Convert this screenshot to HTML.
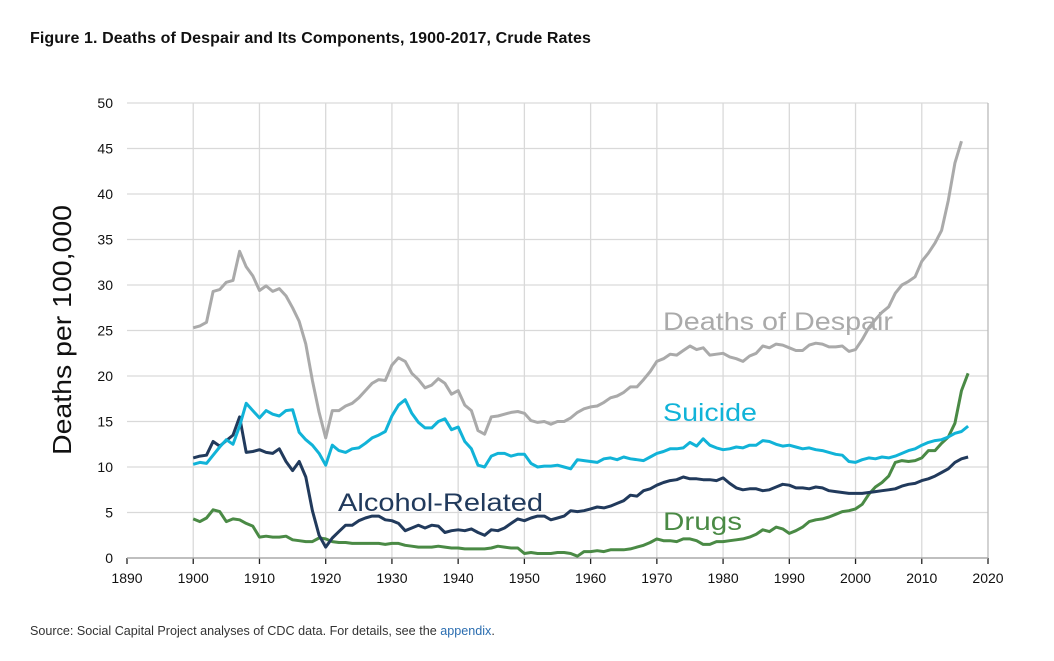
<!DOCTYPE html>
<html><head><meta charset="utf-8">
<style>
body{margin:0;background:#fff;width:1054px;height:661px;overflow:hidden;font-family:"Liberation Sans",sans-serif;}
#title{position:absolute;left:30px;top:30px;font-size:16px;font-weight:bold;color:#111;letter-spacing:0.1px;}
#source{position:absolute;left:30px;top:624px;font-size:12.6px;color:#333;}
#source a{color:#2a6db0;text-decoration:none;}
</style></head><body>
<div id="title">Figure 1. Deaths of Despair and Its Components, 1900-2017, Crude Rates</div>
<svg id="chart" width="1054" height="661" style="position:absolute;left:0;top:0"></svg>
<div id="source">Source: Social Capital Project analyses of CDC data. For details, see the <a>appendix</a>.</div>
<script>
const startYear = 1900;
const xTicks = [1890,1900,1910,1920,1930,1940,1950,1960,1970,1980,1990,2000,2010,2020];
const yTicks = [0,5,10,15,20,25,30,35,40,45,50];
const despair = [25.3,25.5,25.9,29.3,29.5,30.3,30.5,33.7,32.0,31.0,29.4,29.9,29.3,29.6,28.8,27.5,26.0,23.5,19.5,16.0,13.2,16.2,16.2,16.7,17.0,17.6,18.4,19.2,19.6,19.5,21.2,22.0,21.6,20.3,19.6,18.7,19.0,19.7,19.2,18.0,18.4,16.8,16.2,14.0,13.6,15.5,15.6,15.8,16.0,16.1,15.9,15.1,14.9,15.0,14.7,15.0,15.0,15.4,16.0,16.4,16.6,16.7,17.1,17.6,17.8,18.2,18.8,18.8,19.6,20.5,21.6,21.9,22.4,22.3,22.8,23.3,22.9,23.1,22.3,22.4,22.5,22.1,21.9,21.6,22.2,22.5,23.3,23.1,23.5,23.4,23.1,22.8,22.8,23.4,23.6,23.5,23.2,23.2,23.3,22.7,22.9,24.0,25.3,26.2,27.0,27.6,29.1,30.0,30.4,30.9,32.6,33.5,34.6,36.0,39.3,43.4,45.8];
const suicide = [10.3,10.5,10.4,11.3,12.2,13.0,12.5,14.5,17.0,16.2,15.4,16.2,15.8,15.6,16.2,16.3,13.8,13.0,12.4,11.5,10.2,12.4,11.8,11.6,12.0,12.1,12.6,13.2,13.5,13.9,15.6,16.8,17.4,15.9,14.9,14.3,14.3,15.0,15.3,14.1,14.4,12.8,12.0,10.2,10.0,11.2,11.5,11.5,11.2,11.4,11.4,10.4,10.0,10.1,10.1,10.2,10.0,9.8,10.8,10.7,10.6,10.5,10.9,11.0,10.8,11.1,10.9,10.8,10.7,11.1,11.5,11.7,12.0,12.0,12.1,12.7,12.3,13.1,12.4,12.1,11.9,12.0,12.2,12.1,12.4,12.4,12.9,12.8,12.5,12.3,12.4,12.2,12.0,12.1,11.9,11.8,11.6,11.4,11.3,10.6,10.5,10.8,11.0,10.9,11.1,11.0,11.2,11.5,11.8,12.0,12.4,12.7,12.9,13.0,13.3,13.7,13.9,14.5];
const alcohol = [11.0,11.2,11.3,12.8,12.3,12.9,13.5,15.5,11.6,11.7,11.9,11.6,11.5,12.0,10.6,9.6,10.6,8.9,5.2,2.5,1.2,2.2,2.9,3.6,3.6,4.1,4.4,4.6,4.6,4.2,4.1,3.8,3.0,3.3,3.6,3.3,3.6,3.5,2.8,3.0,3.1,3.0,3.2,2.8,2.5,3.1,3.0,3.3,3.8,4.3,4.1,4.4,4.6,4.6,4.2,4.4,4.6,5.2,5.1,5.2,5.4,5.6,5.5,5.7,6.0,6.3,6.9,6.8,7.4,7.6,8.0,8.3,8.5,8.6,8.9,8.7,8.7,8.6,8.6,8.5,8.8,8.2,7.7,7.5,7.6,7.6,7.4,7.5,7.8,8.1,8.0,7.7,7.7,7.6,7.8,7.7,7.4,7.3,7.2,7.1,7.1,7.1,7.2,7.3,7.4,7.5,7.6,7.9,8.1,8.2,8.5,8.7,9.0,9.4,9.8,10.5,10.9,11.1];
const drugs = [4.3,4.0,4.4,5.3,5.1,4.0,4.3,4.2,3.8,3.5,2.3,2.4,2.3,2.3,2.4,2.0,1.9,1.8,1.8,2.2,2.1,1.8,1.7,1.7,1.6,1.6,1.6,1.6,1.6,1.5,1.6,1.6,1.4,1.3,1.2,1.2,1.2,1.3,1.2,1.1,1.1,1.0,1.0,1.0,1.0,1.1,1.3,1.2,1.1,1.1,0.5,0.6,0.5,0.5,0.5,0.6,0.6,0.5,0.2,0.7,0.7,0.8,0.7,0.9,0.9,0.9,1.0,1.2,1.4,1.7,2.1,1.9,1.9,1.8,2.1,2.1,1.9,1.5,1.5,1.8,1.8,1.9,2.0,2.1,2.3,2.6,3.1,2.9,3.4,3.2,2.7,3.0,3.4,4.0,4.2,4.3,4.5,4.8,5.1,5.2,5.4,5.9,7.0,7.8,8.3,9.0,10.5,10.7,10.6,10.7,11.0,11.8,11.8,12.6,13.3,14.8,18.4,20.3];

const NS='http://www.w3.org/2000/svg';
const svg=document.getElementById('chart');
const X0=127,X1=988,Y0=558,Y1=103;
const xs=y=>X0+(y-1890)/(130)*(X1-X0);
const ys=v=>Y0-v/50*(Y0-Y1);
function mk(tag,attrs,parent){const e=document.createElementNS(NS,tag);for(const k in attrs)e.setAttribute(k,attrs[k]);(parent||svg).appendChild(e);return e;}

const grid=mk('g',{});


yTicks.forEach(v=>{
  if(v>0){const l=mk('line',{x1:X0,x2:X1,y1:ys(v),y2:ys(v),stroke:'#d9d9d9','stroke-width':1.3},grid);
  
  }
  const t=mk('text',{x:X0-14,y:ys(v)+5,'text-anchor':'end','font-size':14,fill:'#111'});
  t.textContent=v;
  
  
});
xTicks.forEach(yr=>{
  if(yr>1890){const l=mk('line',{x1:xs(yr),x2:xs(yr),y1:Y1,y2:Y0,stroke:yr===2020?'#bbb':'#d9d9d9','stroke-width':1.3},grid);
  
  }
  const tk=mk('line',{x1:xs(yr),x2:xs(yr),y1:Y0,y2:Y0+6,stroke:'#222','stroke-width':1.3});
  
  
  const t=mk('text',{x:xs(yr),y:Y0+25,'text-anchor':'middle','font-size':14,fill:'#111'});
  t.textContent=yr;
  
  
});
const ax=mk('line',{x1:X0,x2:X1,y1:Y0,y2:Y0,stroke:'#aaa','stroke-width':1.5});



const yt=mk('text',{x:0,y:0,transform:'translate(71,330) rotate(-90)','text-anchor':'middle','font-size':26,fill:'#111',textLength:250,lengthAdjust:'spacingAndGlyphs'});
yt.textContent='Deaths per 100,000';



function line(arr,color,name){
  const d=arr.map((v,i)=>(i?'L':'M')+xs(startYear+i).toFixed(1)+','+ys(v).toFixed(1)).join('');
  const p=mk('path',{d:d,fill:'none',stroke:color,'stroke-width':3,'stroke-linejoin':'round'});
  
  
}
line(despair,'#aaaaaa','despair-line');
line(drugs,'#4a8a45','drugs-line');
line(alcohol,'#213a5c','alcohol-line');
line(suicide,'#11b3d8','suicide-line');

function label(txt,x,y,w,color,name){
  const t=mk('text',{x:x,y:y,'font-size':25,fill:color,textLength:w,lengthAdjust:'spacingAndGlyphs'});
  t.textContent=txt;
  
  
}
label('Deaths of Despair',663,330,230,'#aaaaaa','despair-label');
label('Suicide',663,421,94,'#11b3d8','suicide-label');
label('Alcohol-Related',338,511,205,'#213a5c','alcohol-label');
label('Drugs',663,530,79,'#4a8a45','drugs-label');
</script>
</body></html>
